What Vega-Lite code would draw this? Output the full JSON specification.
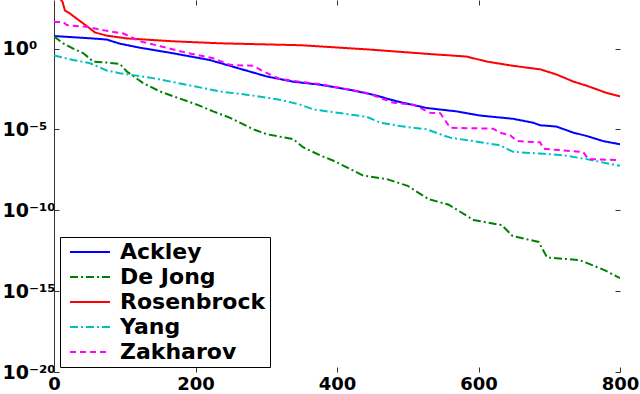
{
  "$schema": "https://vega.github.io/schema/vega-lite/v6.json",
  "autosize": "none",
  "width": 566,
  "height": 372,
  "padding": {"left": 54, "top": 0, "right": 20, "bottom": 22},
  "background": "white",
  "config": {
    "view": {"stroke": null},
    "font": "DejaVu Sans"
  },
  "data": {
    "values": [
      {"f": "Ackley", "x": 0, "v": 5.9},
      {"f": "Ackley", "x": 51, "v": 4.3},
      {"f": "Ackley", "x": 74.5, "v": 3.6},
      {"f": "Ackley", "x": 93, "v": 2.0},
      {"f": "Ackley", "x": 121.5, "v": 1.12},
      {"f": "Ackley", "x": 164, "v": 0.55},
      {"f": "Ackley", "x": 220, "v": 0.195},
      {"f": "Ackley", "x": 263, "v": 0.056},
      {"f": "Ackley", "x": 301, "v": 0.0186},
      {"f": "Ackley", "x": 338, "v": 0.0089},
      {"f": "Ackley", "x": 376, "v": 0.0058},
      {"f": "Ackley", "x": 418, "v": 0.0028},
      {"f": "Ackley", "x": 451, "v": 0.0014},
      {"f": "Ackley", "x": 484, "v": 5.5e-4},
      {"f": "Ackley", "x": 527, "v": 2.1e-4},
      {"f": "Ackley", "x": 569, "v": 1.3e-4},
      {"f": "Ackley", "x": 602, "v": 7.2e-5},
      {"f": "Ackley", "x": 649, "v": 4.5e-5},
      {"f": "Ackley", "x": 677, "v": 2.6e-5},
      {"f": "Ackley", "x": 687, "v": 1.8e-5},
      {"f": "Ackley", "x": 710, "v": 1.5e-5},
      {"f": "Ackley", "x": 734, "v": 6.3e-6},
      {"f": "Ackley", "x": 753, "v": 3.9e-6},
      {"f": "Ackley", "x": 776, "v": 1.9e-6},
      {"f": "Ackley", "x": 800, "v": 1.2e-6},

      {"f": "De Jong", "x": 0, "v": 5.6},
      {"f": "De Jong", "x": 13, "v": 2.1},
      {"f": "De Jong", "x": 27, "v": 1.0},
      {"f": "De Jong", "x": 41.5, "v": 0.51},
      {"f": "De Jong", "x": 55.5, "v": 0.155},
      {"f": "De Jong", "x": 74.5, "v": 0.135},
      {"f": "De Jong", "x": 93, "v": 0.112},
      {"f": "De Jong", "x": 103, "v": 0.038},
      {"f": "De Jong", "x": 126, "v": 0.0072},
      {"f": "De Jong", "x": 150, "v": 0.0022},
      {"f": "De Jong", "x": 169, "v": 0.0011},
      {"f": "De Jong", "x": 202, "v": 3.4e-4},
      {"f": "De Jong", "x": 225, "v": 1.3e-4},
      {"f": "De Jong", "x": 249, "v": 5.2e-5},
      {"f": "De Jong", "x": 282, "v": 1e-5},
      {"f": "De Jong", "x": 301, "v": 5e-6},
      {"f": "De Jong", "x": 338, "v": 2.5e-6},
      {"f": "De Jong", "x": 352, "v": 7.9e-7},
      {"f": "De Jong", "x": 376, "v": 2.5e-7},
      {"f": "De Jong", "x": 395, "v": 1.15e-7},
      {"f": "De Jong", "x": 414, "v": 4.5e-8},
      {"f": "De Jong", "x": 437, "v": 1.4e-8},
      {"f": "De Jong", "x": 470, "v": 8.5e-9},
      {"f": "De Jong", "x": 500, "v": 3.2e-9},
      {"f": "De Jong", "x": 529, "v": 5e-10},
      {"f": "De Jong", "x": 558, "v": 2.2e-10},
      {"f": "De Jong", "x": 593, "v": 2.5e-11},
      {"f": "De Jong", "x": 633, "v": 1.2e-11},
      {"f": "De Jong", "x": 648, "v": 2.6e-12},
      {"f": "De Jong", "x": 685, "v": 1.1e-12},
      {"f": "De Jong", "x": 697, "v": 1.2e-13},
      {"f": "De Jong", "x": 743, "v": 8.3e-14},
      {"f": "De Jong", "x": 778, "v": 2e-14},
      {"f": "De Jong", "x": 800, "v": 6.3e-15},

      {"f": "Rosenbrock", "x": 0, "v": 10000},
      {"f": "Rosenbrock", "x": 6, "v": 1600},
      {"f": "Rosenbrock", "x": 12, "v": 790},
      {"f": "Rosenbrock", "x": 15.5, "v": 220},
      {"f": "Rosenbrock", "x": 22.6, "v": 145},
      {"f": "Rosenbrock", "x": 32, "v": 71},
      {"f": "Rosenbrock", "x": 41.5, "v": 35},
      {"f": "Rosenbrock", "x": 51, "v": 17},
      {"f": "Rosenbrock", "x": 58, "v": 9.8},
      {"f": "Rosenbrock", "x": 74.5, "v": 6.3},
      {"f": "Rosenbrock", "x": 103, "v": 4.2},
      {"f": "Rosenbrock", "x": 168, "v": 2.8},
      {"f": "Rosenbrock", "x": 235, "v": 2.1},
      {"f": "Rosenbrock", "x": 348, "v": 1.6},
      {"f": "Rosenbrock", "x": 442, "v": 0.89},
      {"f": "Rosenbrock", "x": 536, "v": 0.44},
      {"f": "Rosenbrock", "x": 583, "v": 0.32},
      {"f": "Rosenbrock", "x": 612, "v": 0.155},
      {"f": "Rosenbrock", "x": 649, "v": 0.085},
      {"f": "Rosenbrock", "x": 687, "v": 0.052},
      {"f": "Rosenbrock", "x": 710, "v": 0.025},
      {"f": "Rosenbrock", "x": 734, "v": 0.0091},
      {"f": "Rosenbrock", "x": 753, "v": 0.005},
      {"f": "Rosenbrock", "x": 781, "v": 0.0018},
      {"f": "Rosenbrock", "x": 800, "v": 0.0011},

      {"f": "Yang", "x": 0, "v": 0.37},
      {"f": "Yang", "x": 27, "v": 0.195},
      {"f": "Yang", "x": 51, "v": 0.123},
      {"f": "Yang", "x": 74.5, "v": 0.044},
      {"f": "Yang", "x": 93, "v": 0.030},
      {"f": "Yang", "x": 140, "v": 0.0148},
      {"f": "Yang", "x": 187, "v": 0.0058},
      {"f": "Yang", "x": 235, "v": 0.0022},
      {"f": "Yang", "x": 272, "v": 0.0014},
      {"f": "Yang", "x": 319, "v": 6.9e-4},
      {"f": "Yang", "x": 348, "v": 3.4e-4},
      {"f": "Yang", "x": 367, "v": 1.7e-4},
      {"f": "Yang", "x": 442, "v": 6e-5},
      {"f": "Yang", "x": 461, "v": 2.6e-5},
      {"f": "Yang", "x": 489, "v": 1.6e-5},
      {"f": "Yang", "x": 527, "v": 1e-5},
      {"f": "Yang", "x": 550, "v": 4.3e-6},
      {"f": "Yang", "x": 560, "v": 3.1e-6},
      {"f": "Yang", "x": 607, "v": 1.5e-6},
      {"f": "Yang", "x": 630, "v": 1.05e-6},
      {"f": "Yang", "x": 649, "v": 4.1e-7},
      {"f": "Yang", "x": 687, "v": 3.2e-7},
      {"f": "Yang", "x": 720, "v": 2.5e-7},
      {"f": "Yang", "x": 753, "v": 1.45e-7},
      {"f": "Yang", "x": 781, "v": 8.1e-8},
      {"f": "Yang", "x": 800, "v": 5.6e-8},

      {"f": "Zakharov", "x": 0, "v": 44},
      {"f": "Zakharov", "x": 13, "v": 44},
      {"f": "Zakharov", "x": 18, "v": 28},
      {"f": "Zakharov", "x": 46, "v": 22},
      {"f": "Zakharov", "x": 70, "v": 13.5},
      {"f": "Zakharov", "x": 98, "v": 8.5},
      {"f": "Zakharov", "x": 121.5, "v": 2.8},
      {"f": "Zakharov", "x": 150, "v": 1.4},
      {"f": "Zakharov", "x": 187, "v": 0.55},
      {"f": "Zakharov", "x": 225, "v": 0.25},
      {"f": "Zakharov", "x": 249, "v": 0.098},
      {"f": "Zakharov", "x": 282, "v": 0.085},
      {"f": "Zakharov", "x": 296, "v": 0.038},
      {"f": "Zakharov", "x": 319, "v": 0.013},
      {"f": "Zakharov", "x": 357, "v": 0.0079},
      {"f": "Zakharov", "x": 376, "v": 0.0063},
      {"f": "Zakharov", "x": 442, "v": 0.0018},
      {"f": "Zakharov", "x": 480, "v": 4.4e-4},
      {"f": "Zakharov", "x": 508, "v": 3.4e-4},
      {"f": "Zakharov", "x": 532, "v": 1.05e-4},
      {"f": "Zakharov", "x": 546, "v": 1e-4},
      {"f": "Zakharov", "x": 560, "v": 1.26e-5},
      {"f": "Zakharov", "x": 621, "v": 1.1e-5},
      {"f": "Zakharov", "x": 630, "v": 6.3e-6},
      {"f": "Zakharov", "x": 645, "v": 4.3e-6},
      {"f": "Zakharov", "x": 654, "v": 1.9e-6},
      {"f": "Zakharov", "x": 687, "v": 1.6e-6},
      {"f": "Zakharov", "x": 692, "v": 6.3e-7},
      {"f": "Zakharov", "x": 748, "v": 4e-7},
      {"f": "Zakharov", "x": 755, "v": 1.45e-7},
      {"f": "Zakharov", "x": 800, "v": 1.26e-7}
    ]
  },
  "layer": [
    {
      "mark": {"type": "line", "strokeWidth": 2, "clip": true},
      "encoding": {
        "x": {
          "field": "x", "type": "quantitative",
          "scale": {"domain": [0, 800], "nice": false, "zero": false},
          "axis": {
            "title": null, "orient": "bottom", "values": [0, 200, 400, 600, 800],
            "domain": false, "grid": false, "tickSize": -5, "tickColor": "#333", "tickWidth": 1,
            "labelFontSize": 18, "labelFontWeight": "bold", "labelColor": "black",
            "labelPadding": 8, "labelFlush": false
          }
        },
        "y": {
          "field": "v", "type": "quantitative",
          "scale": {"type": "log", "domain": [1e-20, 1000], "nice": false},
          "axis": {
            "title": null, "orient": "left", "values": [1e-20, 1e-15, 1e-10, 1e-5, 1],
            "domain": true, "domainColor": "#333", "grid": false,
            "tickSize": -5, "tickColor": "#333", "tickWidth": 1,
            "labelExpr": "'10' + replace(replace(replace(replace(replace(toString(round(log(datum.value)/LN10)),'-','⁻'),'0','⁰'),'1','¹'),'2','²'),'5','⁵')",
            "labelFontSize": 19, "labelFontWeight": "bold", "labelColor": "black",
            "labelAlign": "left", "labelPadding": 57, "labelBaseline": "middle", "labelFlush": false
          }
        },
        "color": {
          "field": "f", "type": "nominal",
          "scale": {
            "domain": ["Ackley", "De Jong", "Rosenbrock", "Yang", "Zakharov"],
            "range": ["#0000FF", "#008000", "#FF0000", "#00BFBF", "#FF00FF"]
          },
          "legend": {
            "title": null, "orient": "none", "legendX": 6, "legendY": 237,
            "strokeColor": "black", "fillColor": "white", "padding": 4,
            "symbolType": "M-1,0H7", "symbolSize": 100, "symbolStrokeWidth": 2,
            "labelFontSize": 22, "labelFontWeight": "bold", "labelColor": "black",
            "labelOffset": 34, "rowPadding": 3, "cornerRadius": 0
          }
        },
        "strokeDash": {
          "field": "f", "type": "nominal",
          "scale": {
            "domain": ["Ackley", "De Jong", "Rosenbrock", "Yang", "Zakharov"],
            "range": [[1, 0], [8, 3, 2, 3], [1, 0], [8, 3, 2, 3], [6, 4]]
          },
          "legend": null
        }
      }
    },
    {
      "mark": {"type": "point", "opacity": 0, "size": 1},
      "encoding": {
        "x": {
          "field": "x", "type": "quantitative",
          "axis": {
            "title": null, "orient": "top", "values": [200, 400, 600],
            "domain": false, "grid": false, "labels": false, "tickSize": -5, "tickColor": "#333"
          }
        },
        "y": {
          "field": "v", "type": "quantitative",
          "axis": {
            "title": null, "orient": "right", "values": [1e-20, 1e-15, 1e-10, 1e-5, 1],
            "domain": false, "grid": false, "labels": false, "tickSize": -5, "tickColor": "#333"
          }
        }
      }
    }
  ],
  "resolve": {"axis": {"x": "independent", "y": "independent"}}
}
